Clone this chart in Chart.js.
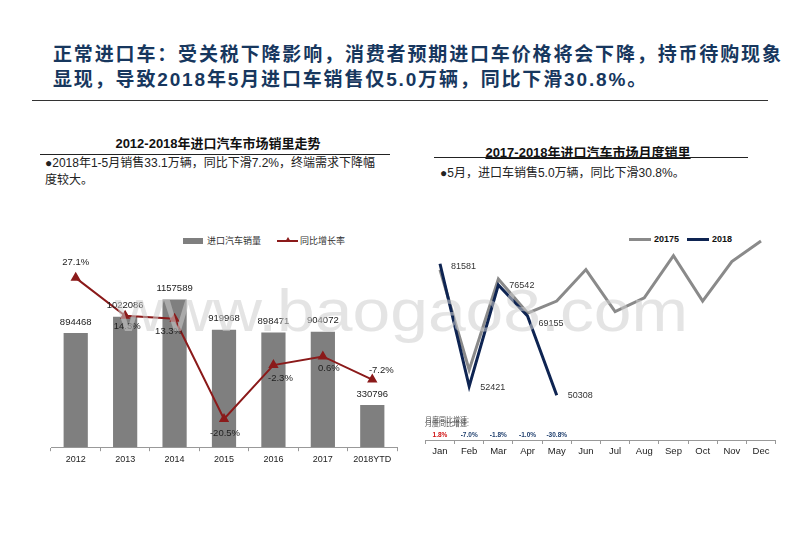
<!DOCTYPE html>
<html>
<head>
<meta charset="utf-8">
<script src="https://cdn.jsdelivr.net/npm/chart.js@4.4.1/dist/chart.umd.min.js"></script>
<style>
  html, body { margin: 0; padding: 0; background: #fff; }
  body { width: 800px; height: 553px; position: relative; overflow: hidden;
         font-family: "Liberation Sans", Arial, "Noto Sans CJK SC", sans-serif; }
  .abs { position: absolute; white-space: nowrap; }
  .headline { left: 53px; top: 42px; font-size: 19px; line-height: 25px; font-weight: bold;
              color: #17375e; letter-spacing: 1.85px; }
  .rule { position: absolute; height: 0; border-top: 1px solid #222; }
  .subtitle { font-size: 13px; font-weight: bold; color: #111; transform: translateX(-50%); line-height: 16px; }
  .bullet { font-size: 12px; color: #222; line-height: 17px; }
  .legend { font-size: 9px; color: #333; line-height: 12px; }
  canvas { position: absolute; }
</style>
</head>
<body>
<div class="abs headline">正常进口车：受关税下降影响，消费者预期进口车价格将会下降，持币待购现象<br>显现，导致2018年5月进口车销售仅5.0万辆，同比下滑30.8%。</div>
<div class="rule" style="left:32px; top:100px; width:736px; border-top:1.5px solid #333;"></div>

<div class="abs subtitle" style="left:218px; top:136px;">2012-2018年进口汽车市场销里走势</div>
<div class="rule" style="left:40px; top:154px; width:350px;"></div>
<div class="abs bullet" style="left:45px; top:155px;">●2018年1-5月销售33.1万辆，同比下滑7.2%，终端需求下降幅<br>度较大。</div>

<div class="abs subtitle" style="left:588px; top:145px; text-decoration: underline;">2017-2018年进口汽车市场月度销里</div>
<div class="rule" style="left:434px; top:157px; width:314px;"></div>
<div class="abs bullet" style="left:440px; top:165px;">●5月，进口车销售5.0万辆，同比下滑30.8%。</div>

<!-- left legend -->
<div class="abs" style="left:183px; top:238px; width:20px; height:6px; background:#7f7f7f;"></div>
<div class="abs legend" style="left:207px; top:235px;">进口汽车销量</div>
<div class="abs" style="left:277px; top:240px; width:21px; height:2px; background:#8b1a1a;"></div>
<div class="abs" style="left:285px; top:237px; width:0; height:0; border-left:3px solid transparent; border-right:3px solid transparent; border-bottom:5px solid #8b1a1a;"></div>
<div class="abs legend" style="left:300px; top:235px;">同比增长率</div>

<!-- right legend -->
<div class="abs" style="left:629px; top:238px; width:22px; height:3px; background:#8a8a8a;"></div>
<div class="abs legend" style="left:654px; top:233px; font-weight:bold; color:#111;">20175</div>
<div class="abs" style="left:687px; top:238px; width:22px; height:3px; background:#0e2452;"></div>
<div class="abs legend" style="left:712px; top:233px; font-weight:bold; color:#111;">2018</div>

<canvas id="leftChart" style="left:40px; top:225px;" width="370" height="245"></canvas>
<canvas id="rightChart" style="left:420px; top:225px;" width="370" height="245"></canvas>
<canvas id="mark" style="left:0; top:0; pointer-events:none;" width="800" height="553"></canvas>

<script>
// 2012-2018 annual imports
const years = ["2012", "2013", "2014", "2015", "2016", "2017", "2018YTD"];
const importSales = [894468, 1022086, 1157589, 919968, 898471, 904072, 330796];
const yoyGrowth = [27.1, 14.3, 13.3, -20.5, -2.3, 0.6, -7.2];

// monthly imports 2017 / 2018
const months = ["Jan", "Feb", "Mar", "Apr", "May", "Jun", "Jul", "Aug", "Sep", "Oct", "Nov", "Dec"];
const sales2017 = [80140, 56370, 77950, 69850, 72700, 80200, 70200, 73500, 83500, 72700, 82100, 87000];
const sales2018 = [81581, 52421, 76542, 69155, 50308];
const growth2018 = ["1.8%", "-7.0%", "-1.8%", "-1.0%", "-30.8%"];

const FONT = '"Liberation Sans", Arial, sans-serif';
Chart.defaults.font.family = FONT;
Chart.defaults.color = "#222";
Chart.defaults.animation = false;

// where each growth label sits relative to its point
const pctOffset = [[0, -15], [2, 11], [-6, 13], [1, 14], [7, 13], [6, 12], [9, -9]];

const leftLabels = {
    id: "leftLabels",
    afterDatasetsDraw(chart) {
        const ctx = chart.ctx;
        ctx.save();
        ctx.font = "9.5px " + FONT;
        ctx.fillStyle = "#222";
        ctx.textAlign = "center";
        ctx.textBaseline = "middle";
        chart.getDatasetMeta(1).data.forEach(function (bar, i) {
            ctx.fillText(String(importSales[i]), bar.x, bar.y - 11);
        });
        chart.getDatasetMeta(0).data.forEach(function (pt, i) {
            ctx.fillText(yoyGrowth[i].toFixed(1) + "%", pt.x + pctOffset[i][0], pt.y + pctOffset[i][1]);
        });
        ctx.restore();
    }
};

new Chart(document.getElementById("leftChart"), {
    type: "bar",
    data: {
        labels: years,
        datasets: [
            {
                type: "line",
                label: "同比增长率",
                data: yoyGrowth,
                yAxisID: "y1",
                borderColor: "#8b1a1a",
                backgroundColor: "#8b1a1a",
                borderWidth: 2,
                pointStyle: "triangle",
                pointRadius: 4,
                tension: 0,
                order: 0,
            },
            {
                type: "bar",
                label: "进口汽车销量",
                data: importSales,
                yAxisID: "y",
                backgroundColor: "#7f7f7f",
                barPercentage: 0.49,
                categoryPercentage: 1,
                order: 1,
            },
        ],
    },
    options: {
        responsive: false,
        layout: { padding: { left: 11, right: 13, top: 25, bottom: 2 } },
        plugins: { legend: { display: false }, tooltip: { enabled: false } },
        scales: {
            x: {
                offset: true,
                grid: { offset: true, drawOnChartArea: false, tickLength: 4, color: "#999" },
                border: { color: "#999" },
                ticks: { font: { size: 9 }, color: "#222", padding: 3 },
            },
            y: { display: false, min: 0, max: 1545000 },
            y1: { display: false, min: -30, max: 36.5 },
        },
    },
    plugins: [leftLabels],
});

const rightLabels = {
    id: "rightLabels",
    afterDatasetsDraw(chart) {
        const ctx = chart.ctx;
        const xs = chart.scales.x;
        const axisY = chart.chartArea.bottom;
        ctx.save();
        ctx.font = "9px " + FONT;
        ctx.fillStyle = "#333";
        ctx.textAlign = "left";
        ctx.textBaseline = "middle";
        const dy = [3, 1, 1, 7, 0];
        chart.getDatasetMeta(0).data.forEach(function (pt, i) {
            ctx.fillText(String(sales2018[i]), pt.x + 11, pt.y + dy[i]);
        });
        // monthly yoy strip
        ctx.font = '7px "Noto Sans CJK SC", sans-serif';
        ctx.fillStyle = "#555";
        ctx.fillText("月度同比增速:", 5, axisY - 21);
        ctx.fillText("月度同比增速:", 5, axisY - 17);
        ctx.font = "bold 6.5px " + FONT;
        ctx.textAlign = "center";
        growth2018.forEach(function (g, i) {
            ctx.fillStyle = g.charAt(0) === "-" ? "#1f3f6e" : "#d01010";
            ctx.fillText(g, xs.getPixelForValue(i), axisY - 5);
        });
        ctx.restore();
    }
};

new Chart(document.getElementById("rightChart"), {
    type: "line",
    data: {
        labels: months,
        datasets: [
            {
                label: "2018",
                data: sales2018,
                borderColor: "#0e2452",
                borderWidth: 3,
                pointRadius: 0,
                tension: 0,
                order: 0,
            },
            {
                label: "20175",
                data: sales2017,
                borderColor: "#8a8a8a",
                borderWidth: 3,
                pointRadius: 0,
                tension: 0,
                order: 1,
            },
        ],
    },
    options: {
        responsive: false,
        layout: { padding: { left: 5.4, right: 14.4, top: 9.6, bottom: 10.6 } },
        plugins: { legend: { display: false }, tooltip: { enabled: false } },
        scales: {
            x: {
                offset: true,
                grid: { offset: true, drawOnChartArea: false, tickLength: 4, color: "#999" },
                border: { color: "#999" },
                ticks: { font: { size: 9.5 }, color: "#222", padding: 2 },
            },
            y: { display: false, min: 39700, max: 88500 },
        },
    },
    plugins: [rightLabels],
});

// faint site watermark across both charts
(function () {
    const c = document.getElementById("mark").getContext("2d");
    const text = "www.baogao8.com";
    c.font = "60px " + FONT;
    const w = c.measureText(text).width;
    c.save();
    c.translate(115, 331);
    c.scale(573 / w, 1);
    c.fillStyle = "rgba(205,205,205,0.55)";
    c.fillText(text, 0, 0);
    c.restore();
})();
</script>
</body>
</html>
